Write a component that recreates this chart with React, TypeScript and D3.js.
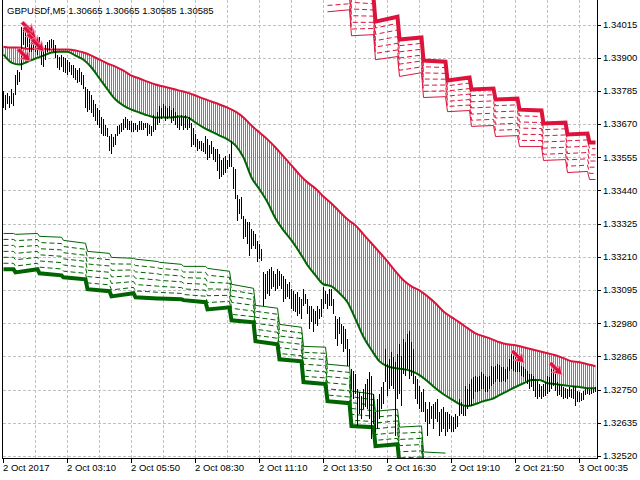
import React from 'react';
import * as d3 from 'd3';

// ---- chart data ----

const headerText = 'GBPUSDf,M5  1.30665 1.30665 1.30585 1.30585';

const timeLabels = [
  '2 Oct 2017', '2 Oct 03:10', '2 Oct 05:50', '2 Oct 08:30', '2 Oct 11:10',
  '2 Oct 13:50', '2 Oct 16:30', '2 Oct 19:10', '2 Oct 21:50', '3 Oct 00:35',
];
const timeLabelBars = [0, 32, 64, 96, 128, 160, 192, 224, 256, 288];

const priceTicks = [
  1.34015, 1.339, 1.33785, 1.3367, 1.33555, 1.3344, 1.33325,
  1.3321, 1.33095, 1.3298, 1.32865, 1.3275, 1.32635, 1.3252,
];

// M5 bars, one per 5 minutes
const barHigh = [
  1.33783, 1.33772, 1.33779, 1.33769, 1.3379, 1.33776, 1.33841, 1.33859, 1.33852, 1.34008,
  1.34004, 1.33997, 1.3399, 1.3398, 1.3397, 1.33976, 1.33963, 1.33956, 1.3397, 1.33935,
  1.33928, 1.33945, 1.33956, 1.33963, 1.33966, 1.33963, 1.33945, 1.33911, 1.33904, 1.33911,
  1.33904, 1.339, 1.33893, 1.33886, 1.33876, 1.33873, 1.33866, 1.33859, 1.33866, 1.33852,
  1.33841, 1.33797, 1.3379, 1.33783, 1.33772, 1.33755, 1.33738, 1.33727, 1.3372, 1.33693,
  1.33686, 1.33668, 1.33658, 1.33627, 1.33634, 1.33624, 1.33634, 1.33662, 1.33668, 1.33675,
  1.33686, 1.33693, 1.33686, 1.33679, 1.33679, 1.33672, 1.33675, 1.33668, 1.33679, 1.33679,
  1.33672, 1.33675, 1.33675, 1.33668, 1.33662, 1.33703, 1.33693, 1.33713, 1.33731, 1.33727,
  1.33738, 1.33734, 1.33727, 1.33731, 1.3372, 1.33727, 1.33713, 1.33703, 1.33696, 1.33703,
  1.33693, 1.337, 1.33689, 1.33693, 1.33675, 1.33658, 1.33634, 1.33617, 1.3361, 1.33613,
  1.33603, 1.33627, 1.33617, 1.33599, 1.3361, 1.33589, 1.33582, 1.33582, 1.33565, 1.33547,
  1.33554, 1.33558, 1.33547, 1.33565, 1.3361, 1.33523, 1.33513, 1.33426, 1.33409, 1.33416,
  1.3335, 1.3334, 1.33329, 1.33329, 1.33305, 1.33298, 1.33288, 1.33264, 1.33253, 1.33236,
  1.33156, 1.33149, 1.3316, 1.33167, 1.33174, 1.3316, 1.33149, 1.33167, 1.3316, 1.33149,
  1.33143, 1.33132, 1.33115, 1.33122, 1.33098, 1.33091, 1.3308, 1.33087, 1.3307, 1.33063,
  1.33098, 1.3308, 1.33063, 1.33039, 1.33039, 1.33028, 1.33021, 1.33039, 1.33028, 1.33063,
  1.33105, 1.33091, 1.3308, 1.33098, 1.33098, 1.33063, 1.33004, 1.32994, 1.33001, 1.32976,
  1.3297, 1.32959, 1.32925, 1.3289, 1.32821, 1.32814, 1.32803, 1.32752, 1.32741, 1.32727,
  1.32752, 1.32769, 1.32786, 1.3281, 1.32797, 1.32734, 1.32672, 1.32717, 1.32734, 1.32759,
  1.32776, 1.3289, 1.32838, 1.32855, 1.3288, 1.32862, 1.32845, 1.32873, 1.32907, 1.32866,
  1.32925, 1.32914, 1.32942, 1.32952, 1.32914, 1.3289, 1.32797, 1.32786, 1.32762, 1.32741,
  1.32752, 1.32707, 1.32682, 1.32707, 1.32693, 1.327, 1.32707, 1.32717, 1.32672, 1.32682,
  1.32689, 1.32672, 1.32672, 1.32665, 1.32658, 1.32655, 1.32665, 1.32658, 1.32717, 1.32707,
  1.32693, 1.32762, 1.32752, 1.32769, 1.32786, 1.32793, 1.32797, 1.32793, 1.32797, 1.3281,
  1.32803, 1.32797, 1.32793, 1.32797, 1.32831, 1.32828, 1.32831, 1.32838, 1.32835, 1.32828,
  1.32828, 1.32821, 1.32828, 1.32855, 1.32873, 1.32866, 1.32862, 1.32855, 1.32848, 1.32831,
  1.32828, 1.32821, 1.32814, 1.32803, 1.32803, 1.32797, 1.32786, 1.32779, 1.32769, 1.32762,
  1.32769, 1.32776, 1.32797, 1.32793, 1.32821, 1.32831, 1.32803, 1.32776, 1.32769, 1.32762,
  1.32759, 1.32755, 1.32752, 1.32759, 1.32752, 1.32762, 1.32762, 1.32745, 1.32741, 1.32738,
  1.32745, 1.32752, 1.32755, 1.32752, 1.32755, 1.32752, 1.32759,
];
const barLow = [
  1.33727, 1.3372, 1.33738, 1.33727, 1.33741, 1.33734, 1.33772, 1.33807, 1.33817, 1.33859,
  1.33945, 1.33935, 1.33938, 1.33918, 1.33921, 1.33928, 1.33921, 1.33911, 1.33928, 1.33876,
  1.33869, 1.33893, 1.33918, 1.33928, 1.33935, 1.33921, 1.339, 1.33866, 1.33859, 1.33869,
  1.33852, 1.33848, 1.33841, 1.33852, 1.33841, 1.33831, 1.33824, 1.33814, 1.33817, 1.33807,
  1.3379, 1.33727, 1.33713, 1.3372, 1.3371, 1.33693, 1.33679, 1.33668, 1.33658, 1.33634,
  1.33627, 1.33627, 1.33624, 1.33575, 1.33565, 1.33589, 1.33599, 1.33627, 1.33634, 1.33641,
  1.33651, 1.33658, 1.33651, 1.33651, 1.33644, 1.33644, 1.33648, 1.33641, 1.33651, 1.33651,
  1.33651, 1.33655, 1.33627, 1.33634, 1.33627, 1.33644, 1.33651, 1.33668, 1.33675, 1.33686,
  1.33693, 1.33679, 1.33686, 1.33693, 1.33675, 1.33682, 1.33668, 1.33658, 1.33651, 1.33662,
  1.33651, 1.33658, 1.33651, 1.33655, 1.33592, 1.33599, 1.33589, 1.33575, 1.33582, 1.33575,
  1.33572, 1.33565, 1.33547, 1.33554, 1.33565, 1.33547, 1.3354, 1.33506, 1.33478, 1.33485,
  1.33495, 1.33502, 1.33513, 1.3352, 1.3352, 1.33444, 1.33409, 1.33333, 1.33357, 1.3334,
  1.33271, 1.33278, 1.33253, 1.33212, 1.33236, 1.33246, 1.33236, 1.33191, 1.33201, 1.33194,
  1.33039, 1.33063, 1.3308, 1.33073, 1.33098, 1.33105, 1.33091, 1.33098, 1.33108, 1.33098,
  1.33053, 1.33063, 1.3307, 1.33063, 1.33028, 1.33021, 1.33018, 1.33004, 1.33011, 1.32994,
  1.33039, 1.33046, 1.33011, 1.32959, 1.32983, 1.32949, 1.32976, 1.3297, 1.32994, 1.33001,
  1.33028, 1.33046, 1.33028, 1.33039, 1.33039, 1.33011, 1.32925, 1.329, 1.32942, 1.32907,
  1.3288, 1.3289, 1.32831, 1.32831, 1.32752, 1.32717, 1.32734, 1.32624, 1.32665, 1.32648,
  1.32682, 1.32689, 1.32682, 1.32648, 1.32579, 1.3263, 1.32603, 1.32613, 1.32648, 1.32682,
  1.327, 1.32776, 1.32727, 1.32752, 1.32762, 1.32752, 1.32589, 1.32717, 1.32734, 1.32693,
  1.32803, 1.32797, 1.32821, 1.32786, 1.32797, 1.32769, 1.32717, 1.327, 1.32682, 1.32672,
  1.32672, 1.32637, 1.32589, 1.3263, 1.32648, 1.32613, 1.32648, 1.32637, 1.32589, 1.32603,
  1.32613, 1.32589, 1.32603, 1.32613, 1.32603, 1.32603, 1.32613, 1.3262, 1.32658, 1.32665,
  1.32658, 1.32658, 1.32682, 1.32693, 1.32693, 1.32717, 1.32741, 1.32741, 1.32745, 1.32752,
  1.32752, 1.32741, 1.32741, 1.32752, 1.32762, 1.32769, 1.32776, 1.32786, 1.32776, 1.32776,
  1.32779, 1.32776, 1.32786, 1.32814, 1.32821, 1.32814, 1.3281, 1.3281, 1.3281, 1.32797,
  1.32793, 1.32779, 1.32769, 1.32752, 1.32759, 1.32745, 1.32724, 1.32717, 1.32724, 1.32717,
  1.32724, 1.32727, 1.32734, 1.32741, 1.32752, 1.32762, 1.32745, 1.32727, 1.32731, 1.32724,
  1.32717, 1.3272, 1.32717, 1.32724, 1.3272, 1.32717, 1.32693, 1.32707, 1.32707, 1.3271,
  1.32714, 1.32731, 1.32734, 1.32731, 1.32734, 1.32738, 1.32741,
];

// upper (red) and lower (green) envelope, one reading every 4 bars
const envStep = 4;
const envUpper = [
  1.33938, 1.33935, 1.33935, 1.33931, 1.33931, 1.33931, 1.33928, 1.33928, 1.33928, 1.33925,
  1.33918, 1.33907, 1.33893, 1.3388, 1.33869, 1.33855, 1.33838, 1.33828, 1.33817, 1.33807,
  1.338, 1.33793, 1.33786, 1.33779, 1.33769, 1.33758, 1.33748, 1.33738, 1.33727, 1.33713,
  1.33693, 1.33665, 1.33641, 1.33617, 1.33589, 1.33558, 1.33527, 1.33495, 1.33468, 1.33447,
  1.33419, 1.33395, 1.33367, 1.3334, 1.33319, 1.33288, 1.33257, 1.33226, 1.33194, 1.3316,
  1.33129, 1.33108, 1.33094, 1.33073, 1.33049, 1.33021, 1.33001, 1.32983, 1.32963, 1.32945,
  1.32935, 1.32925, 1.32914, 1.32907, 1.32904, 1.32897, 1.3289, 1.32883, 1.32876, 1.32869,
  1.32859, 1.32848, 1.32845, 1.32838, 1.32831,
];
const envLower = [
  1.33911, 1.33883, 1.33876, 1.33886, 1.33897, 1.33907, 1.33918, 1.33921, 1.33921, 1.33907,
  1.33893, 1.33866, 1.33828, 1.3379, 1.33755, 1.33734, 1.3372, 1.3371, 1.337, 1.33693,
  1.33693, 1.33693, 1.33696, 1.33693, 1.33675, 1.33658, 1.33644, 1.3363, 1.33617, 1.33596,
  1.33554, 1.33485, 1.33444, 1.33399, 1.33343, 1.33302, 1.33267, 1.33226, 1.33181, 1.33146,
  1.33115, 1.33108, 1.33084, 1.33053, 1.32994, 1.32932, 1.32887, 1.32848, 1.32831, 1.32824,
  1.32821, 1.32814, 1.328, 1.32779, 1.32755, 1.32734, 1.32717, 1.327, 1.32693, 1.327,
  1.3271, 1.32717, 1.32731, 1.32745, 1.32759, 1.32772, 1.32783, 1.32783, 1.32772, 1.32769,
  1.32765, 1.32762, 1.32759, 1.32755, 1.32755,
];

// hourly support channel (green): first bar of each hour, main line and outer edge
const supStart = [0, 6, 18, 30, 42, 54, 66, 78, 90, 102, 114, 126, 138, 150, 162, 174, 186, 198, 210];
const supMainA = [
  1.33167, 1.33156, 1.33153, 1.33139, 1.33098, 1.33073, 1.3307, 1.33066, 1.3306, 1.33028,
  1.3299, 1.32918, 1.32855, 1.32776, 1.3271, 1.32624, 1.32554, 1.32492, 1.32406,
];
const supMainB = [
  1.33167, 1.33167, 1.33146, 1.33132, 1.33091, 1.33084, 1.33066, 1.33063, 1.33053, 1.33035,
  1.32983, 1.32907, 1.32848, 1.32769, 1.32703, 1.3262, 1.32561, 1.32495, 1.32406,
];
const supEdgeA = [
  1.33291, 1.33288, 1.33281, 1.33267, 1.33229, 1.33208, 1.33202, 1.33191, 1.33177, 1.3317,
  1.33115, 1.33042, 1.32976, 1.329, 1.32838, 1.32745, 1.32675, 1.3262, 1.32534,
];
const supEdgeB = [
  1.33291, 1.33291, 1.33278, 1.33257, 1.33222, 1.33205, 1.33194, 1.33184, 1.33177, 1.3316,
  1.33101, 1.33032, 1.32966, 1.32897, 1.32831, 1.32734, 1.32682, 1.32624, 1.3253,
];
const supLastBar = 221;

// hourly resistance channel (red)
const resStart = [162, 174, 186, 198, 210, 222, 234, 246, 258, 270, 282, 293];
const resMainA = [
  1.34191, 1.34115, 1.34025, 1.33963, 1.3389, 1.33821, 1.3379, 1.33755, 1.3372, 1.33672,
  1.33634, 1.33606,
];
const resMainB = [
  1.34191, 1.34108, 1.34042, 1.3397, 1.33886, 1.33831, 1.33793, 1.33758, 1.33717, 1.33675,
  1.33637, 1.33606,
];
const resEdgeA = [
  1.34059, 1.33976, 1.33893, 1.33835, 1.33762, 1.33713, 1.33662, 1.33627, 1.33592, 1.33544,
  1.33502, 1.33478,
];
const resEdgeB = [
  1.34066, 1.3398, 1.33904, 1.33848, 1.33765, 1.33717, 1.33665, 1.3363, 1.33592, 1.33547,
  1.33506, 1.33478,
];
const resLastBar = 296;

// sell arrows
const arrowBars = [10, 12, 13, 15, 17, 257, 276];
const arrowPrices = [1.33911, 1.34004, 1.33987, 1.33963, 1.33945, 1.32866, 1.32824];

// ---- drawing ----

const W = 640;
const H = 480;
const frameRight = 597.5;
const frameBottom = 458.5;
const font = '"Liberation Sans", Arial, sans-serif';

const x = d3.scaleLinear().domain([0, barHigh.length - 1]).range([3.5, 3.5 + 2 * (barHigh.length - 1)]);
const y = d3.scaleLinear().domain([1.3252, 1.34015]).range([456, 24.5]);

const levelSteps = [0, 1, 2, 3, 4, 5, 6];

function channelLevels(
  starts: number[], mainA: number[], mainB: number[],
  edgeA: number[], edgeB: number[], lastBar: number,
) {
  const line = d3.line<[number, number]>().x(d => x(d[0])).y(d => y(d[1]));
  return levelSteps.map(s => {
    const pts: [number, number][] = [];
    starts.forEach((b, k) => {
      const end = k < starts.length - 1 ? starts[k + 1] - 1 : lastBar;
      pts.push([b, mainA[k] + (edgeA[k] - mainA[k]) * s / 6]);
      pts.push([end, mainB[k] + (edgeB[k] - mainB[k]) * s / 6]);
    });
    return line(pts) || '';
  });
}

const Channel: React.FC<{ paths: string[]; color: string }> = ({ paths, color }) => (
  <g fill="none" stroke={color}>
    {paths.map((d, s) => (
      <path
        key={s}
        d={d}
        strokeWidth={s === 0 ? 4 : 1}
        strokeDasharray={s === 0 || s === 6 ? undefined : '5,3'}
        strokeLinejoin="miter"
      />
    ))}
  </g>
);

export default function App() {
  const envArea = d3.area<number>()
    .x((_, j) => x(j * envStep))
    .y0((_, j) => y(envLower[j]))
    .y1(d => y(d))
    .curve(d3.curveMonotoneX)(envUpper) || '';
  const envLine = (vals: number[]) => d3.line<number>()
    .x((_, j) => x(j * envStep))
    .y(d => y(d))
    .curve(d3.curveMonotoneX)(vals) || '';

  const supPaths = channelLevels(supStart, supMainA, supMainB, supEdgeA, supEdgeB, supLastBar);
  const resPaths = channelLevels(resStart, resMainA, resMainB, resEdgeA, resEdgeB, resLastBar);

  const gridX = d3.range(16, barHigh.length, 16);

  return (
    <svg width={W} height={H} style={{ position: 'absolute', left: 0, top: 0, background: '#fff' }}>
      <defs>
        <clipPath id="plot">
          <rect x={3} y={0} width={frameRight - 3.5} height={frameBottom - 0.5} />
        </clipPath>
        <pattern id="stripes" patternUnits="userSpaceOnUse" width={2} height={4}>
          <rect x={1} y={0} width={1} height={4} fill="#CD5C5C" />
        </pattern>
      </defs>

      {/* grid */}
      <g stroke="#c0c0c0" strokeDasharray="3,2" shapeRendering="crispEdges">
        {priceTicks.map(p => (
          <line key={p} x1={3} x2={frameRight} y1={Math.round(y(p)) + 0.5} y2={Math.round(y(p)) + 0.5} />
        ))}
        {gridX.map(b => (
          <line key={b} x1={x(b)} x2={x(b)} y1={0} y2={frameBottom} />
        ))}
      </g>

      <g clipPath="url(#plot)">
        <Channel paths={supPaths} color="#006400" />
        <Channel paths={resPaths} color="#DC143C" />

        <path d={envArea} fill="url(#stripes)" />
        <path d={envLine(envUpper)} fill="none" stroke="#DC143C" strokeWidth={2} />
        <path d={envLine(envLower)} fill="none" stroke="#006400" strokeWidth={2} />

        <g stroke="#000" strokeWidth={1} shapeRendering="crispEdges">
          {barHigh.map((h, i) => (
            <line key={i} x1={x(i)} x2={x(i)} y1={y(h)} y2={Math.max(y(barLow[i]), y(h) + 1)} />
          ))}
        </g>

        {arrowBars.map((b, k) => (
          <path
            key={k}
            transform={`translate(${x(b)},${y(arrowPrices[k])}) scale(1.35)`}
            d="M-5,-3 L-3,-5 L2,0 L3,-3 L5,5 L-3,3 L0,2 Z"
            fill="#DC143C"
            stroke="#ff8fb0"
            strokeWidth={0.6}
          />
        ))}
      </g>

      {/* frame */}
      <g stroke="#000" strokeWidth={1} shapeRendering="crispEdges" fill="none">
        <line x1={2.5} x2={2.5} y1={0} y2={frameBottom} />
        <line x1={frameRight} x2={frameRight} y1={0} y2={frameBottom} />
        <line x1={2.5} x2={frameRight} y1={frameBottom} y2={frameBottom} />
        {priceTicks.map(p => (
          <line key={p} x1={frameRight} x2={frameRight + 3} y1={Math.round(y(p)) + 0.5} y2={Math.round(y(p)) + 0.5} />
        ))}
        {timeLabelBars.map(b => (
          <line key={b} x1={x(b)} x2={x(b)} y1={frameBottom} y2={frameBottom + 4} />
        ))}
      </g>

      <g fontFamily={font} fontSize={9.5} fill="#000">
        {priceTicks.map(p => (
          <text key={p} x={603} y={y(p)} dy="0.35em">{p.toFixed(5)}</text>
        ))}
        {timeLabels.map((t, k) => (
          <text key={t} x={x(timeLabelBars[k]) - 0.5} y={471}>{t}</text>
        ))}
        <text x={7} y={14}>{headerText}</text>
      </g>
    </svg>
  );
}
